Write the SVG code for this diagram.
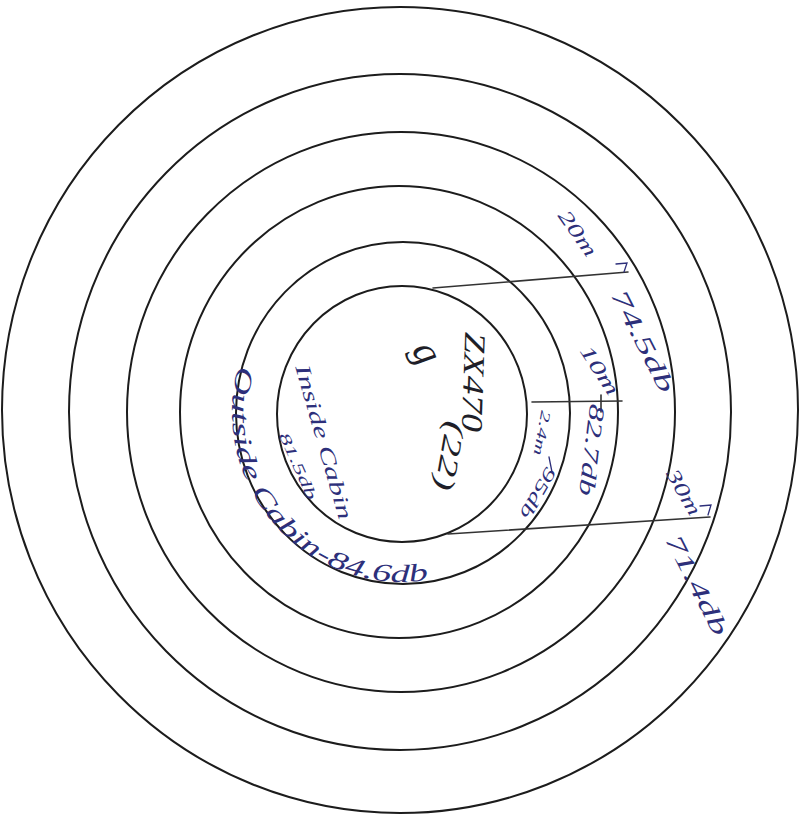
<svg xmlns="http://www.w3.org/2000/svg" width="803" height="822" viewBox="0 0 803 822">
  <defs>
    <style>
      .ring { fill: none; stroke: #1c1c1c; stroke-width: 2; }
      .conn { fill: none; stroke: #333; stroke-width: 1.6; stroke-linecap: round; }
      .tick { fill: none; stroke: #2d2f7a; stroke-width: 1.3; stroke-linecap: round; }
      .ink { font-family: "Liberation Serif", "DejaVu Serif", serif; font-style: italic; fill: #2d2f7a; dominant-baseline: central; text-anchor: middle; }
      .dark { font-family: "Liberation Serif", "DejaVu Serif", serif; font-style: italic; fill: #1e1e28; dominant-baseline: central; text-anchor: middle; }
    </style>
    <path id="arcOutside" d="M239.4,362.3 A170,170 0 0 0 437.3,578.3"/>
  </defs>
  <rect x="0" y="0" width="803" height="822" fill="#ffffff"/>

  <g id="rings">
    <ellipse id="ring-1" class="ring" cx="400" cy="410" rx="398" ry="403"/>
    <ellipse id="ring-2" class="ring" cx="400" cy="412" rx="331" ry="338"/>
    <ellipse id="ring-3" class="ring" cx="401" cy="412" rx="274" ry="280"/>
    <ellipse id="ring-4" class="ring" cx="399" cy="412" rx="219" ry="226"/>
    <ellipse id="ring-5" class="ring" cx="403" cy="413" rx="167" ry="171"/>
    <ellipse id="ring-6" class="ring" cx="402" cy="414" rx="125" ry="128"/>
  </g>

  <g id="connectors">
    <line class="conn" x1="433" y1="288" x2="628" y2="272"/>
    <line class="conn" x1="532" y1="402" x2="622" y2="401"/>
    <line class="conn" x1="448" y1="534" x2="710" y2="517"/>
    <line class="conn" x1="601" y1="395" x2="601" y2="412"/>
    <path class="tick" d="M616,264 L627,263 L624,272"/>
    <path class="tick" d="M549,457 L552,472"/>
    <path class="tick" d="M700,506 L711,505 L708,515"/>
  </g>

  <g id="center-label">
    <text class="dark" transform="translate(428,352) rotate(60)" font-size="40">g</text>
    <text class="dark" transform="translate(474,382) rotate(92)" font-size="30" textLength="100" lengthAdjust="spacingAndGlyphs">ZX470</text>
    <text class="dark" transform="translate(450,456) rotate(100)" font-size="28" textLength="70" lengthAdjust="spacingAndGlyphs">(22)</text>
  </g>

  <g id="label-20m">
    <text class="ink" transform="translate(578,233) rotate(55)" font-size="20" textLength="52" lengthAdjust="spacingAndGlyphs">20m</text>
    <text class="ink" transform="translate(643,341) rotate(63)" font-size="24" textLength="112" lengthAdjust="spacingAndGlyphs">74.5db</text>
  </g>

  <g id="label-10m">
    <text class="ink" transform="translate(600,370) rotate(57)" font-size="20" textLength="55" lengthAdjust="spacingAndGlyphs">10m</text>
    <text class="ink" transform="translate(592,450) rotate(97)" font-size="22" textLength="92" lengthAdjust="spacingAndGlyphs">82.7db</text>
  </g>

  <g id="label-2m">
    <text class="ink" transform="translate(542,433) rotate(100)" font-size="14" textLength="45" lengthAdjust="spacingAndGlyphs">2.4m</text>
    <text class="ink" transform="translate(538,493) rotate(120)" font-size="18" textLength="56" lengthAdjust="spacingAndGlyphs">95db</text>
  </g>

  <g id="label-30m">
    <text class="ink" transform="translate(684,492) rotate(60)" font-size="20" textLength="50" lengthAdjust="spacingAndGlyphs">30m</text>
    <text class="ink" transform="translate(697,585) rotate(63)" font-size="24" textLength="110" lengthAdjust="spacingAndGlyphs">71.4db</text>
  </g>

  <g id="label-inside">
    <text class="ink" transform="translate(324,442) rotate(74)" font-size="21" textLength="160" lengthAdjust="spacingAndGlyphs">Inside Cabin</text>
    <text class="ink" transform="translate(298,466) rotate(66)" font-size="15" textLength="72" lengthAdjust="spacingAndGlyphs">81.5db</text>
  </g>

  <g id="label-outside">
    <text font-family="Liberation Serif, DejaVu Serif, serif" font-style="italic" fill="#2d2f7a" font-size="25"><textPath href="#arcOutside" startOffset="4" textLength="340" lengthAdjust="spacingAndGlyphs">Outside Cabin-84.6db</textPath></text>
  </g>
</svg>
